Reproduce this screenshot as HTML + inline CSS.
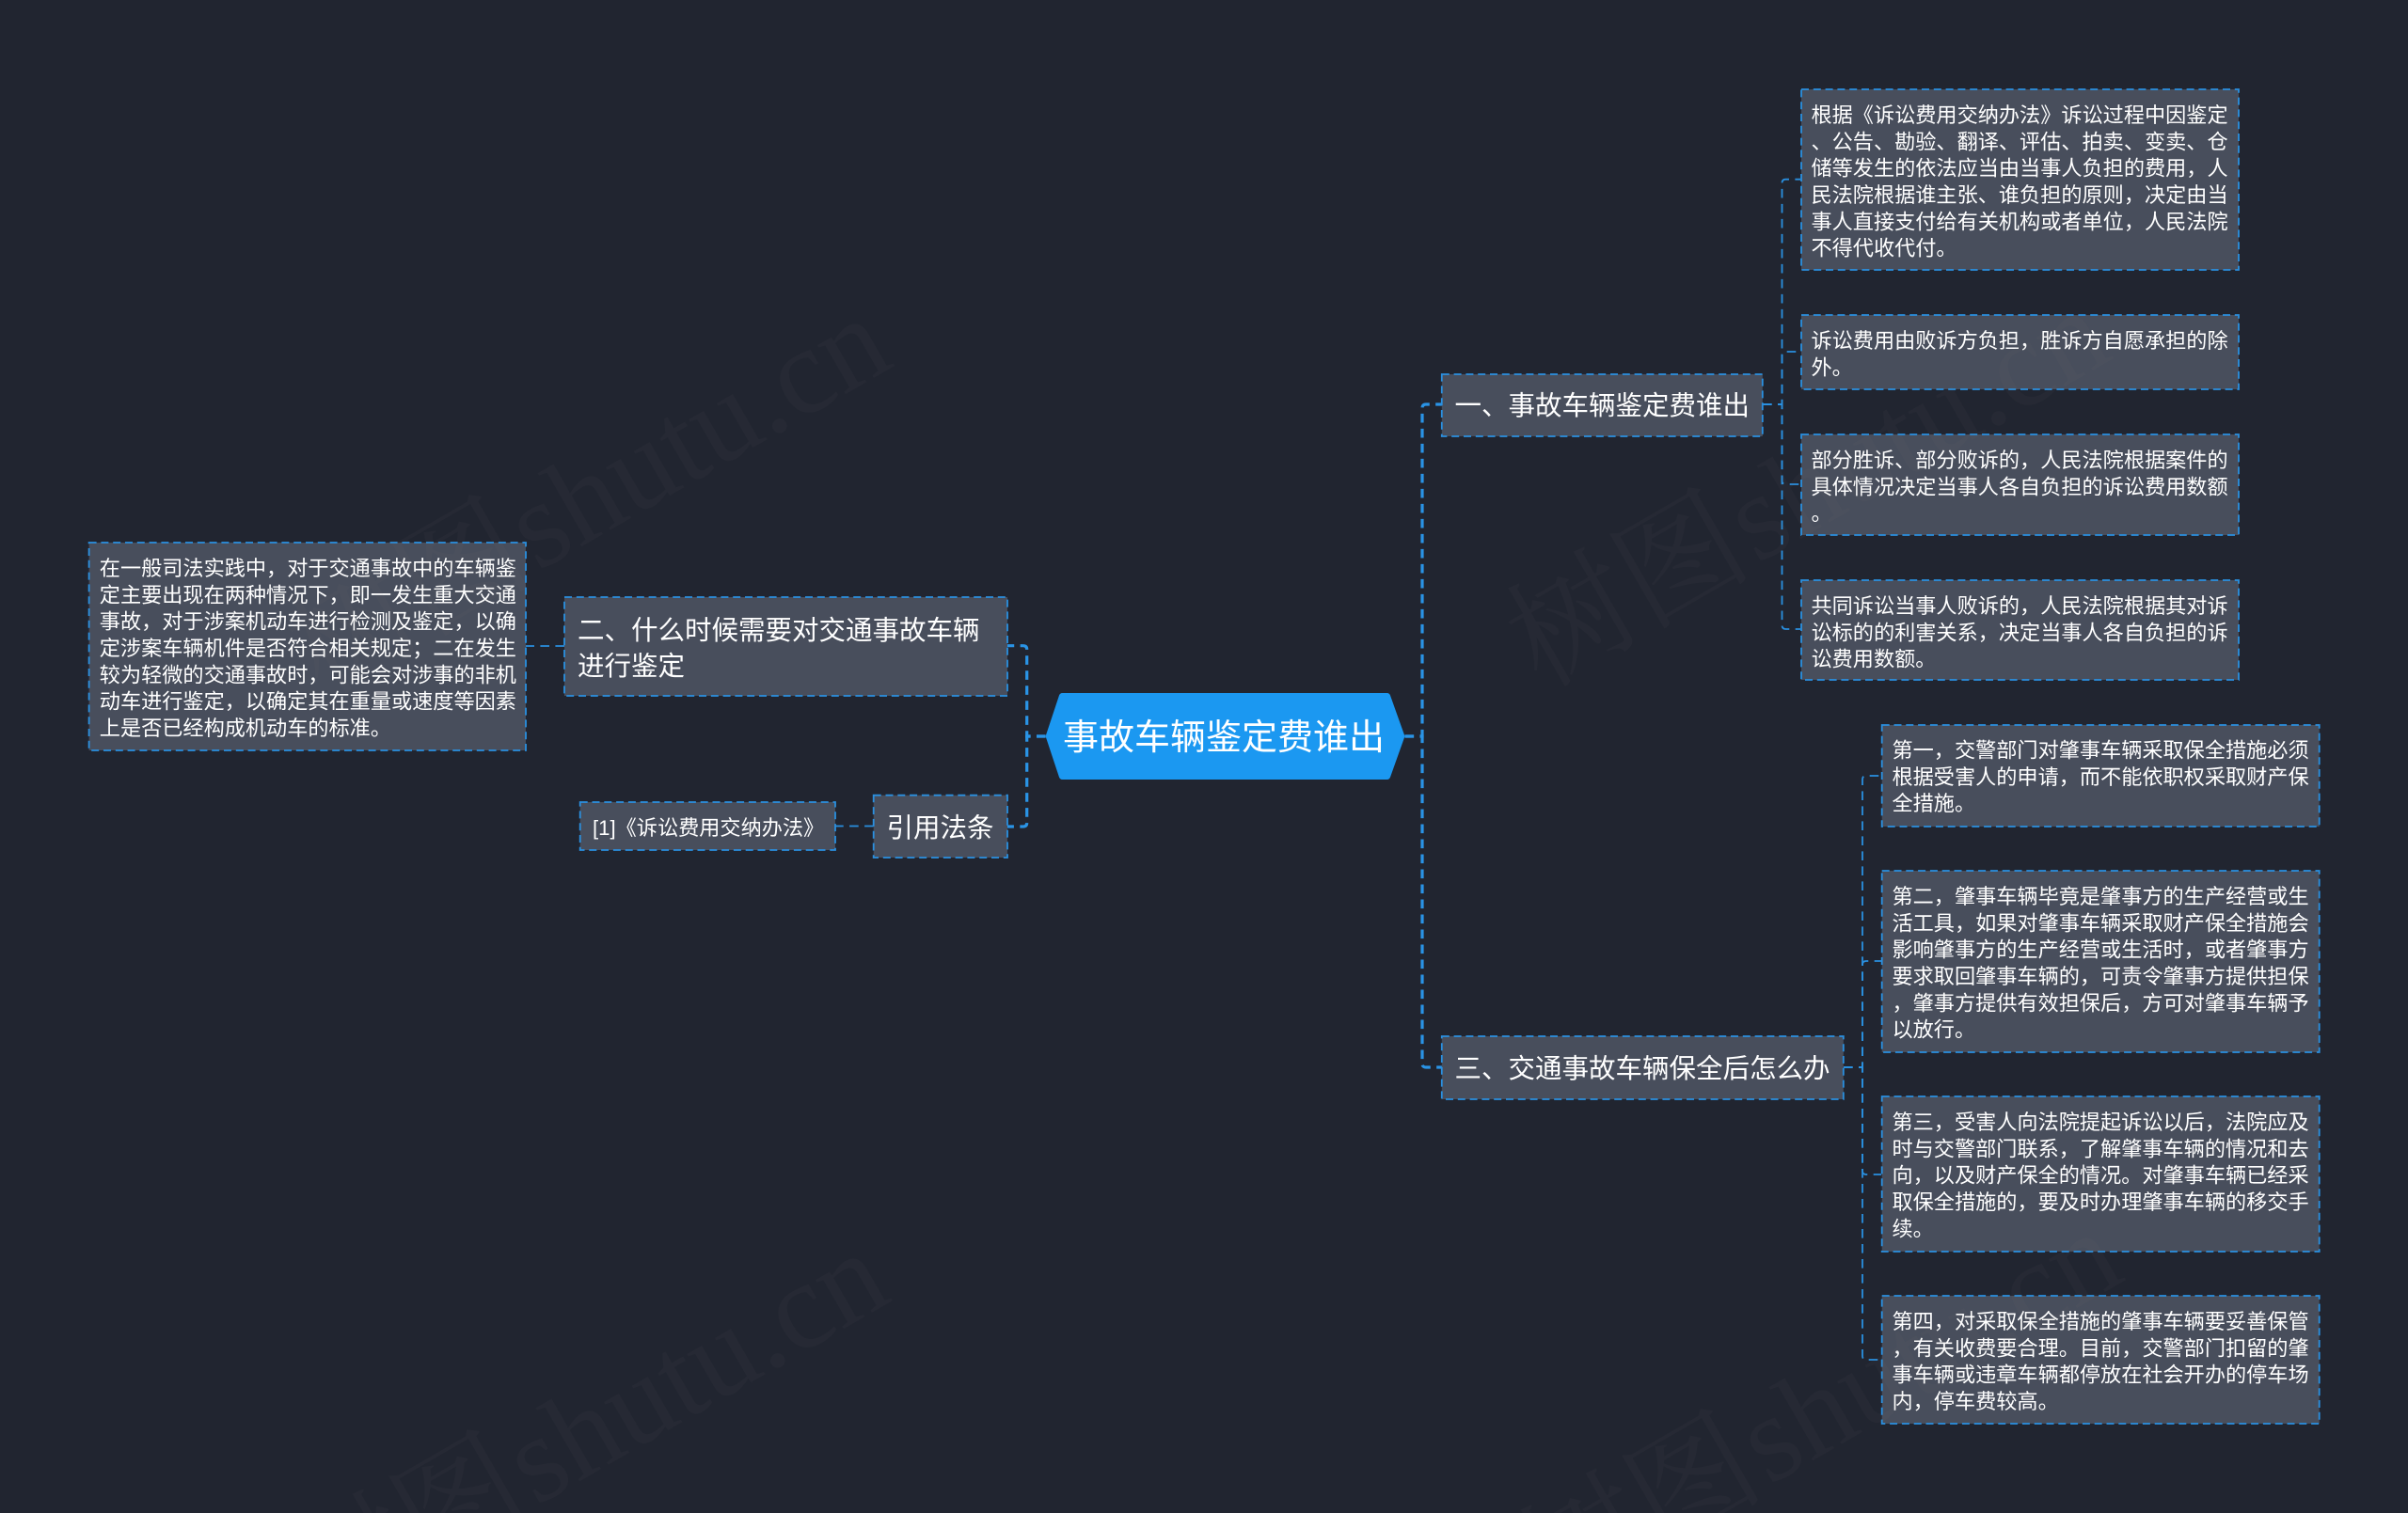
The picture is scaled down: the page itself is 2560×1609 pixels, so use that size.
<!DOCTYPE html>
<html lang="zh-CN">
<head>
<meta charset="utf-8">
<title>事故车辆鉴定费谁出</title>
<style>
html,body{margin:0;padding:0;background:#212530;width:2560px;height:1609px;overflow:hidden}
svg{display:block}
text{font-family:"Liberation Sans","Noto Sans CJK SC",sans-serif;fill:#fff}
.t{font-size:22.17px}
.m{font-size:28.5px}
.r{font-size:38px}
.w{font-family:"Liberation Serif","Noto Serif CJK SC",serif;font-size:131px;word-spacing:-30px;fill:rgba(125,125,125,.055)}
.b{fill:#484e5c;stroke:#2a90e0;stroke-width:1.8;stroke-dasharray:8 4.8}
.c1{fill:none;stroke:#2a94e6;stroke-width:3.2;stroke-dasharray:9.6 6.4}
.c2{fill:none;stroke:#2a90e0;stroke-width:1.8;stroke-dasharray:9.6 6.4}
</style>
</head>
<body>
<svg width="2560" height="1609" viewBox="0 0 2560 1609" xmlns="http://www.w3.org/2000/svg">
<rect width="2560" height="1609" fill="#212530"/>

<!-- root connectors -->
<path class="c1" d="M1493.5 783H1512V434q0-4 4-4H1533"/>
<path class="c1" d="M1493.5 783H1512V1131q0 4 4 4H1533"/>
<path class="c1" d="M1111.6 783H1091.7V690.7q0-4-4-4H1071"/>
<path class="c1" d="M1111.6 783H1091.7V875q0 4-4 4H1071"/>

<!-- branch connectors -->
<path class="c2" d="M1874 430H1894.5V194.7q0-4 4-4H1914"/>
<path class="c2" d="M1874 430H1894.5V378q0-4 4-4H1914"/>
<path class="c2" d="M1874 430H1894.5V511q0 4 4 4H1914"/>
<path class="c2" d="M1874 430H1894.5V665q0 4 4 4H1914"/>
<path class="c2" d="M1960 1135H1980V829q0-4 4-4H2000"/>
<path class="c2" d="M1960 1135H1980V1026q0-4 4-4H2000"/>
<path class="c2" d="M1960 1135H1980V1245q0 4 4 4H2000"/>
<path class="c2" d="M1960 1135H1980V1442q0 4 4 4H2000"/>
<path class="c2" d="M600 687H580H559"/>
<path class="c2" d="M928.7 878.5H908H888"/>

<!-- root -->
<path d="M1111.6 783L1126 739.5Q1127 737 1129.5 737H1474.5Q1477 737 1478 739.5L1493.5 783L1478 826.5Q1477 829 1474.5 829H1129.5Q1127 829 1126 826.5Z" fill="#1b98f1"/>
<text class="r" x="1130" y="797">事故车辆鉴定费谁出</text>

<!-- level 2 -->
<rect class="b" x="1532.8" y="398" width="341" height="66"/>
<text class="m" x="1546.5" y="441">一、事故车辆鉴定费谁出</text>
<rect class="b" x="1532.8" y="1102" width="427" height="67"/>
<text class="m" x="1546.5" y="1146">三、交通事故车辆保全后怎么办</text>
<rect class="b" x="600" y="635" width="471" height="105"/>
<text class="m" x="614" y="680">二、什么时候需要对交通事故车辆</text>
<text class="m" x="614" y="718">进行鉴定</text>
<rect class="b" x="928.7" y="845.7" width="142.3" height="66.3"/>
<text class="m" x="942.5" y="890">引用法条</text>
<rect class="b" x="616.7" y="853" width="271.3" height="51"/>
<text class="t" x="630" y="888">[1]《诉讼费用交纳办法》</text>

<!-- right top leaves -->
<rect class="b" x="1915" y="95" width="465" height="192"/>
<text class="t" x="1925.5" y="130">根据《诉讼费用交纳办法》诉讼过程中因鉴定</text>
<text class="t" x="1925.5" y="158.3">、公告、勘验、翻译、评估、拍卖、变卖、仓</text>
<text class="t" x="1925.5" y="186.7">储等发生的依法应当由当事人负担的费用，人</text>
<text class="t" x="1925.5" y="215">民法院根据谁主张、谁负担的原则，决定由当</text>
<text class="t" x="1925.5" y="243.3">事人直接支付给有关机构或者单位，人民法院</text>
<text class="t" x="1925.5" y="271.7">不得代收代付。</text>

<rect class="b" x="1915" y="335" width="465" height="79"/>
<text class="t" x="1925.5" y="370">诉讼费用由败诉方负担，胜诉方自愿承担的除</text>
<text class="t" x="1925.5" y="398.3">外。</text>

<rect class="b" x="1915" y="462" width="465" height="107"/>
<text class="t" x="1925.5" y="497">部分胜诉、部分败诉的，人民法院根据案件的</text>
<text class="t" x="1925.5" y="525.3">具体情况决定当事人各自负担的诉讼费用数额</text>
<text class="t" x="1925.5" y="553.7">。</text>

<rect class="b" x="1915" y="617" width="465" height="106"/>
<text class="t" x="1925.5" y="652">共同诉讼当事人败诉的，人民法院根据其对诉</text>
<text class="t" x="1925.5" y="680.3">讼标的的利害关系，决定当事人各自负担的诉</text>
<text class="t" x="1925.5" y="708.7">讼费用数额。</text>

<!-- right lower leaves -->
<rect class="b" x="2000.7" y="771" width="465" height="108"/>
<text class="t" x="2011.5" y="805.5">第一，交警部门对肇事车辆采取保全措施必须</text>
<text class="t" x="2011.5" y="833.8">根据受害人的申请，而不能依职权采取财产保</text>
<text class="t" x="2011.5" y="862.2">全措施。</text>

<rect class="b" x="2000.7" y="926" width="465" height="193"/>
<text class="t" x="2011.5" y="961">第二，肇事车辆毕竟是肇事方的生产经营或生</text>
<text class="t" x="2011.5" y="989.3">活工具，如果对肇事车辆采取财产保全措施会</text>
<text class="t" x="2011.5" y="1017.7">影响肇事方的生产经营或生活时，或者肇事方</text>
<text class="t" x="2011.5" y="1046">要求取回肇事车辆的，可责令肇事方提供担保</text>
<text class="t" x="2011.5" y="1074.3">，肇事方提供有效担保后，方可对肇事车辆予</text>
<text class="t" x="2011.5" y="1102.7">以放行。</text>

<rect class="b" x="2000.7" y="1166" width="465" height="165"/>
<text class="t" x="2011.5" y="1201">第三，受害人向法院提起诉讼以后，法院应及</text>
<text class="t" x="2011.5" y="1229.3">时与交警部门联系，了解肇事车辆的情况和去</text>
<text class="t" x="2011.5" y="1257.7">向，以及财产保全的情况。对肇事车辆已经采</text>
<text class="t" x="2011.5" y="1286">取保全措施的，要及时办理肇事车辆的移交手</text>
<text class="t" x="2011.5" y="1314.3">续。</text>

<rect class="b" x="2000.7" y="1378" width="465" height="136"/>
<text class="t" x="2011.5" y="1413">第四，对采取保全措施的肇事车辆要妥善保管</text>
<text class="t" x="2011.5" y="1441.3">，有关收费要合理。目前，交警部门扣留的肇</text>
<text class="t" x="2011.5" y="1469.7">事车辆或违章车辆都停放在社会开办的停车场</text>
<text class="t" x="2011.5" y="1498">内，停车费较高。</text>

<!-- left leaf -->
<rect class="b" x="94.6" y="577" width="464.4" height="221"/>
<text class="t" x="105.8" y="612">在一般司法实践中，对于交通事故中的车辆鉴</text>
<text class="t" x="105.8" y="640.3">定主要出现在两种情况下，即一发生重大交通</text>
<text class="t" x="105.8" y="668.7">事故，对于涉案机动车进行检测及鉴定，以确</text>
<text class="t" x="105.8" y="697">定涉案车辆机件是否符合相关规定；二在发生</text>
<text class="t" x="105.8" y="725.3">较为轻微的交通事故时，可能会对涉事的非机</text>
<text class="t" x="105.8" y="753.7">动车进行鉴定，以确定其在重量或速度等因素</text>
<text class="t" x="105.8" y="782">上是否已经构成机动车的标准。</text>

<!-- watermarks -->
<text class="w" text-anchor="end" transform="translate(953 388) rotate(-30)">树图 shutu.cn</text>
<text class="w" text-anchor="end" transform="translate(951 1382) rotate(-30)">树图 shutu.cn</text>
<text class="w" text-anchor="end" transform="translate(2249 380) rotate(-30)">树图 shutu.cn</text>
<text class="w" text-anchor="end" transform="translate(2262 1360) rotate(-30)">树图 shutu.cn</text>
</svg>
</body>
</html>
